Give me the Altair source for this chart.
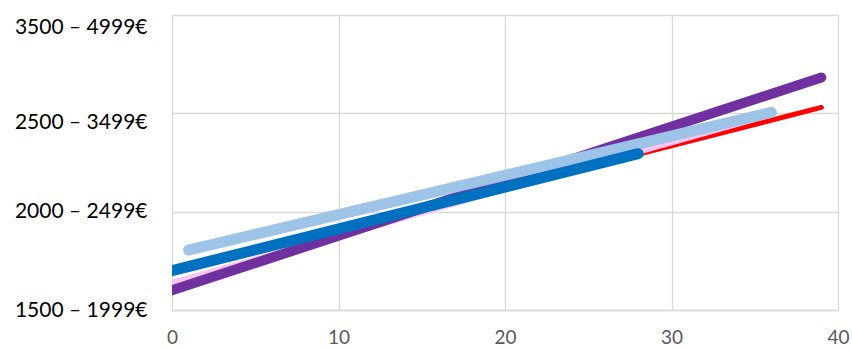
import altair as alt
import pandas as pd

# Salary bands shown on the vertical axis (1 = lowest band)
band_codes = [1, 2, 3, 4]
band_labels = ["1500 – 1999€", "2000 – 2499€", "2500 – 3499€", "3500 – 4999€"]

# Trend lines: start/end x and band level for each series
series_names = ["Rot", "Rosa", "Lila", "Hellblau", "Blau"]
x_start = [0, 0, 0, 1, 0]
x_end = [39, 36, 39, 36, 28]
y_start = [1.375, 1.275, 1.20, 1.61, 1.40]
y_end = [3.06, 2.99, 3.365, 3.01, 2.59]

# Line styles, drawn back to front
styles = {
    "Rot": dict(color="#FF0000", strokeWidth=5),
    "Rosa": dict(color="#F9C6F3", strokeWidth=6),
    "Lila": dict(color="#7030A0", strokeWidth=10),
    "Hellblau": dict(color="#9DC3E6", strokeWidth=11),
    "Blau": dict(color="#0070C0", strokeWidth=11),
}

rows = []
for n, xs, xe, ys, ye in zip(series_names, x_start, x_end, y_start, y_end):
    rows.append({"serie": n, "x": xs, "y": ys})
    rows.append({"serie": n, "x": xe, "y": ye})
df = pd.DataFrame(rows)

label_map = "{" + ", ".join(f"{c}: '{l}'" for c, l in zip(band_codes, band_labels)) + "}"

x_enc = alt.X(
    "x:Q",
    scale=alt.Scale(domain=[0, 40], nice=False, zero=False),
    axis=alt.Axis(
        values=[0, 10, 20, 30, 40],
        title=None,
        grid=True,
        gridColor="#D9D9D9",
        gridWidth=1.3,
        domainColor="#D9D9D9",
        domainWidth=1.3,
        ticks=False,
        labelColor="#595959",
        labelFont="Lato",
        labelFontSize=19,
        labelPadding=18,
        labelFlush=False,
    ),
)
y_enc = alt.Y(
    "y:Q",
    scale=alt.Scale(domain=[1, 4], nice=False, zero=False),
    axis=alt.Axis(
        values=band_codes,
        labelExpr=f"{label_map}[datum.value]",
        title=None,
        grid=True,
        gridColor="#D9D9D9",
        gridWidth=1.3,
        domain=False,
        ticks=False,
        labelColor="#000000",
        labelFont="Lato",
        labelFontSize=21,
        labelPadding=25,
        labelFlush=False,
        labelOffset={
            "condition": [
                {"test": "datum.value === 4", "value": 12},
                {"test": "datum.value === 3", "value": 9},
            ],
            "value": 0,
        },
    ),
)

layers = []
for name in series_names:
    st = styles[name]
    layers.append(
        alt.Chart(df)
        .transform_filter(alt.datum.serie == name)
        .mark_line(
            color=st["color"],
            strokeWidth=st["strokeWidth"],
            strokeCap="round",
            clip=True,
        )
        .encode(x=x_enc, y=y_enc)
    )

chart = (
    alt.layer(*layers)
    .properties(
        width=666,
        height=295,
        autosize=alt.AutoSizeParams(type="none"),
        padding={"left": 172, "top": 15, "right": 14, "bottom": 39},
        background="#FFFFFF",
    )
    .configure_view(stroke=None)
)

chart.save("out.html", embed_options={"renderer": "svg", "actions": False})
